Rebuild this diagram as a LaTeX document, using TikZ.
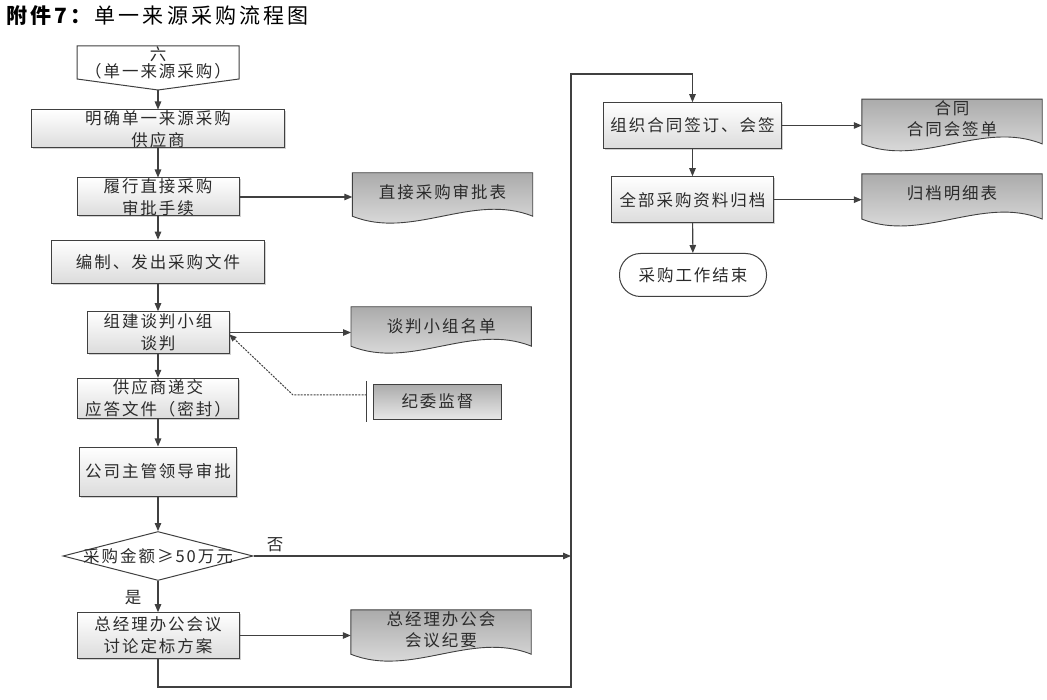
\documentclass[tikz,border=0pt]{standalone}
\usepackage{fontspec}
\setmainfont{Noto Sans CJK SC}
\newfontfamily\nf[LetterSpace=12]{Noto Sans CJK SC}
\newfontfamily\tf[LetterSpace=15]{Noto Sans CJK SC}
\usetikzlibrary{arrows.meta,shapes.geometric,shadows,calc}
\definecolor{linec}{HTML}{404040}
\definecolor{txtc}{HTML}{2B2B2B}
\definecolor{boxbot}{HTML}{DCDCDC}
\definecolor{doctop}{HTML}{ABABAB}
\definecolor{docbot}{HTML}{E8E8E8}
\newcommand\docshape[1]{%
  \path[docsty] (#1.north west) -- (#1.north east) -- ([yshift=7pt]#1.south east)
    .. controls ([xshift=-60pt,yshift=31pt]#1.south east) and ([xshift=60pt,yshift=-17pt]#1.south west) .. ([yshift=7pt]#1.south west) -- cycle;}
\begin{document}
\begin{tikzpicture}[x=1pt,y=-1pt,
  every node/.style={text=txtc, font=\nf\fontsize{16.5}{22}\selectfont, align=center, inner sep=0pt},
  box/.style={draw=linec, line width=1pt, top color=white, bottom color=boxbot,
    drop shadow={shadow xshift=1.5pt,shadow yshift=-1.5pt,fill=black,opacity=0.18}},
  docarea/.style={minimum width=180pt},
  docsty/.style={draw=linec, line width=0.9pt, top color=doctop, bottom color=docbot},
  flow/.style={draw=linec, line width=1.1pt, -{Triangle[length=8pt,width=6.5pt]}},
  dashflow/.style={draw=linec, line width=1pt, dash pattern=on 2pt off 1.2pt, -{Triangle[length=7pt,width=6pt]}},
  plain/.style={draw=linec, line width=1pt, fill=white}
]
\useasboundingbox (0,0) rectangle (1047,700);

% title
\node[anchor=west, text=black, font=\tf\fontsize{21}{24}\selectfont] (title) at (6,16) {\textbf{附件7：}单一来源采购流程图};

% start
\path[plain] (77,46) -- (239,46) -- (239,79) -- (158,90) -- (77,79) -- cycle;
\node[font=\nf\fontsize{16.5}{17}\selectfont] (st) at (158,63) {六\\（单一来源采购）};
\coordinate (sttip) at (158,90);

% left column
\node[box, minimum width=253pt, minimum height=38pt] (b1) at (158,129) {明确单一来源采购\\供应商};
\node[box, minimum width=162pt, minimum height=38pt] (b2) at (158,197) {履行直接采购\\审批手续};
\node[box, minimum width=213pt, minimum height=43pt] (b3) at (158,261.7) {编制、发出采购文件};
\node[box, minimum width=142pt, minimum height=41.6pt] (b4) at (158,332.5) {组建谈判小组\\谈判};
\node[box, minimum width=161pt, minimum height=40pt] (b5) at (158,398.3) {供应商递交\\应答文件（密封）};
\node[box, minimum width=157pt, minimum height=49pt] (b6) at (158,471.5) {公司主管领导审批};
\node[diamond, plain, minimum width=190pt, minimum height=49pt] (dm) at (158,556) {};
\node (dmt) at (dm.center) {采购金额≥50万元};
\node[box, minimum width=162pt, minimum height=45.6pt] (b7) at (158,635.5) {总经理办公会议\\讨论定标方案};

% right column
\node[box, minimum width=178pt, minimum height=45.6pt] (b8) at (692.5,125.5) {组织合同签订、会签};
\node[box, minimum width=162pt, minimum height=46pt] (b9) at (692.5,199.7) {全部采购资料归档};
\node[plain, rounded corners=21pt, minimum width=147pt, minimum height=43pt] (en) at (693,275) {采购工作结束};

% documents
\node[docarea, minimum height=50pt] (d1) at (442.5,198) {};
\node[docarea, minimum height=46pt] (d2) at (441.2,330) {};
\node[docarea, minimum height=51pt] (d3) at (441,635.5) {};
\node[docarea, minimum height=51.4pt] (d4) at (952,125) {};
\node[docarea, minimum height=51.7pt] (d5) at (952,200) {};
\docshape{d1}\docshape{d2}\docshape{d3}\docshape{d4}\docshape{d5}
\node[font=\nf\fontsize{16.5}{21}\selectfont] (d1t) at ($(d1.center)+(0,-6)$) {直接采购审批表};
\node[font=\nf\fontsize{16.5}{21}\selectfont] (d2t) at ($(d2.center)+(0,-4)$) {谈判小组名单};
\node[font=\nf\fontsize{16.5}{21}\selectfont] (d3t) at ($(d3.center)+(0,-6)$) {总经理办公会\\会议纪要};
\node[font=\nf\fontsize{16.5}{21}\selectfont] (d4t) at ($(d4.center)+(0,-6.5)$) {合同\\合同会签单};
\node[font=\nf\fontsize{16.5}{21}\selectfont] (d5t) at ($(d5.center)+(0,-6.5)$) {归档明细表};

% supervision
\node[draw=linec, line width=1pt, top color=doctop, bottom color=docbot, minimum width=128pt, minimum height=35pt] (jw) at (437.5,401.7) {纪委监督};
\draw[linec, line width=1.3pt] (366.7,381) -- (366.7,422);
\coordinate (jwb) at (366.7,395);
\coordinate (dk) at (293,395);

% labels
\node (yes) at (133,598) {是};
\node (no) at (275,545) {否};

% connectors
\coordinate (jn) at (571,556);
\coordinate (c1) at (571,687);
\coordinate (c2) at (571,74);
\draw[flow] (sttip) -- (b1);
\draw[flow] (b1) -- (b2);
\draw[flow] (b2) -- (b3);
\draw[flow] (b3) -- (b4);
\draw[flow] (b4) -- (b5);
\draw[flow] (b5) -- (b6);
\draw[flow] (b6) -- (dm);
\draw[flow] (dm) -- (b7);
\draw[flow] (dm.east) -- (jn);
\draw[flow] (b7.south) |- (c1) -- (c2) -| (b8.north);
\draw[flow] (b8) -- (b9);
\draw[flow] (b9) -- (en);
\draw[flow] (b2.east) -- (b2.east -| d1.west);
\draw[flow] (b4.east) -- (b4.east -| d2.west);
\draw[flow] (b7.east) -- (b7.east -| d3.west);
\draw[flow] (b8.east) -- (b8.east -| d4.west);
\draw[flow] (b9.east) -- (b9.east -| d5.west);
\draw[dashflow] (jwb) -- (dk) -- ([yshift=-2pt]b4.east);
\end{tikzpicture}
\end{document}
